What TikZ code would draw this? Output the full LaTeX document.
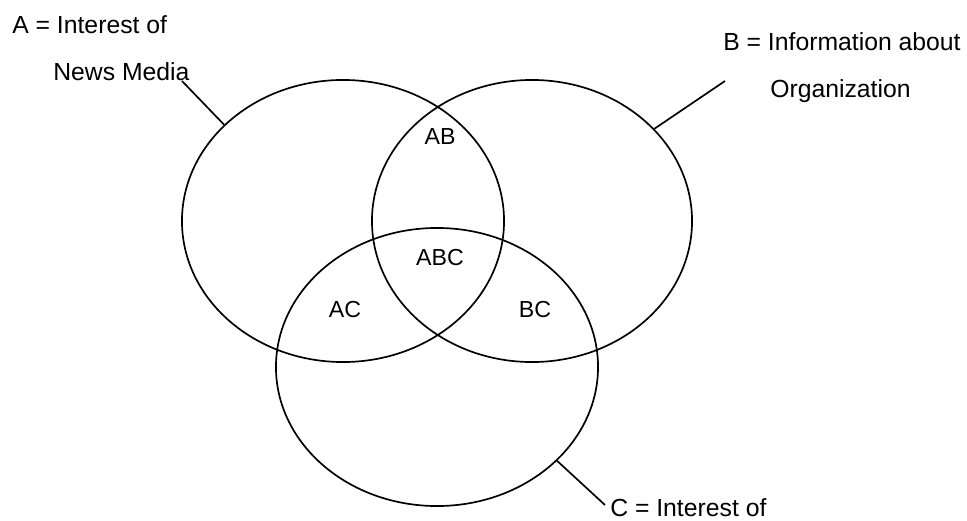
\documentclass[tikz,border=0pt]{standalone}
\usepackage{fontspec}
\setmainfont{Liberation Sans}
\usetikzlibrary{shapes.geometric}
\tikzset{
  setA/.style={ellipse,draw,line width=1.2pt,inner sep=0pt},
  side/.style={anchor=base west,inner sep=0pt,font=\fontsize{17.6}{21}\selectfont},
  part/.style={inner sep=0pt,font=\fontsize{16.5}{20}\selectfont}
}

\begin{document}
\begin{tikzpicture}[x=0.025cm,y=-0.025cm]
    \useasboundingbox (0,0) rectangle (967,520);
    % the three sets
    \node[setA,minimum width=8.05cm,minimum height=7.05cm] (A) at (343,221) {};
    \node[setA,minimum width=8cm,minimum height=7.05cm] (B) at (532,221) {};
    \node[setA,minimum width=8.05cm,minimum height=6.95cm] (C) at (437,367) {};
    % parts
    \node[part] (ab) at (440,137) {AB};
    \node[part] (abc) at (440,258) {ABC};
    \node[part] (ac) at (345,310) {AC};
    \node[part] (bc) at (535,310) {BC};
    % names of the sets
    \node[side] (a1) at (12,33) {A = Interest of};
    \node[side] (a2) at (53,80) {News Media};
    \node[side] (b1) at (723,50) {B = Information about};
    \node[side] (b2) at (770,97) {Organization};
    \node[side,text depth=0pt] (c1) at (610,516) {C = Interest of};
    \coordinate (aEnd) at (182,81);
    \coordinate (bEnd) at (725,81);
    \coordinate (cEnd) at (605,505);
    \begin{scope}[line width=1.2pt]
      \draw (A.141) -- (aEnd);
      \draw (B.37) -- (bEnd);
      \draw (C.-38) -- (cEnd);
    \end{scope}
\end{tikzpicture}
\end{document}
